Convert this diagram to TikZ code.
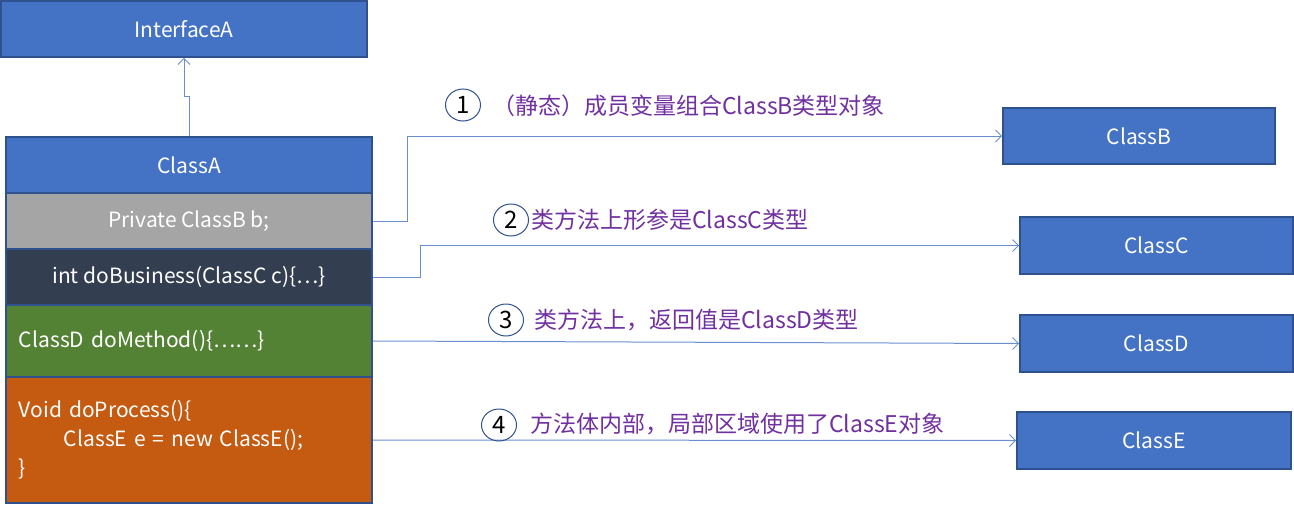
\documentclass[tikz,border=0pt]{standalone}
\usepackage{fontspec}
\setmainfont{Noto Sans CJK SC}
\usetikzlibrary{arrows.meta,shapes.geometric}
\definecolor{boxblue}{HTML}{4472C4}
\definecolor{boxedge}{HTML}{2F528F}
\definecolor{rowgray}{HTML}{A5A5A5}
\definecolor{rownavy}{HTML}{333F50}
\definecolor{rowgreen}{HTML}{548235}
\definecolor{roworange}{HTML}{C55A11}
\definecolor{labpurple}{HTML}{7030A0}
\definecolor{connblue}{HTML}{6A8FD0}
\tikzset{
  classbox/.style={draw=boxedge, line width=1.6pt, fill=boxblue, text=white,
    font=\fontsize{21}{24}\selectfont, inner sep=0pt},
  rowbox/.style={draw=boxedge, line width=1.6pt, text=white, minimum width=366pt,
    font=\fontsize{21}{29}\selectfont, inner sep=0pt},
  conn/.style={draw=connblue, line width=1pt, -{Straight Barb[length=6pt,width=12pt,line width=1pt]}},
  numcirc/.style={ellipse, draw=boxedge, line width=1pt, minimum width=35pt, minimum height=32pt,
    inner sep=0pt, font=\fontsize{24}{26}\selectfont},
  lab/.style={anchor=west, text=labpurple, font=\fontsize{23}{26}\selectfont, inner sep=0pt}
}
\begin{document}
\begin{tikzpicture}[x=1pt,y=-1pt]
\useasboundingbox (0,0) rectangle (1294,506);
\node[classbox, minimum width=366pt, minimum height=56pt] (ifa) at (184,29) {InterfaceA};
\node[classbox, minimum width=366pt, minimum height=56pt] (clsa) at (189,165) {ClassA};
\node[rowbox, fill=rowgray, minimum height=56pt] (priv) at (189,221) {Private ClassB b;};
\node[rowbox, fill=rownavy, minimum height=56pt] (biz) at (189,277) {int doBusiness(ClassC c)\{…\}};
\node[rowbox, fill=rowgreen, minimum height=72pt, text width=340pt, align=left] (meth) at (189,341) {ClassD doMethod()\{……\}};
\node[rowbox, fill=roworange, minimum height=126pt, text width=340pt, align=left] (proc) at (189,440)
  {Void doProcess()\{\\\hspace*{45pt}ClassE e = new ClassE();\\\}};

\node[classbox, minimum width=272pt, minimum height=56pt] (cb) at (1139,136) {ClassB};
\node[classbox, minimum width=273pt, minimum height=57pt] (cc) at (1156.5,245.5) {ClassC};
\node[classbox, minimum width=273pt, minimum height=57pt] (cd) at (1156.5,343.5) {ClassD};
\node[classbox, minimum width=274pt, minimum height=57pt] (ce) at (1154,440.5) {ClassE};

\draw[conn] (clsa.north) -- ++(0,-40) -| (ifa.south);
\draw[conn] (priv.east) -- ++(35,0) |- (cb.west);
\draw[conn] (biz.east) -- ++(48,0) |- (cc.west);
\draw[conn] (meth.east) -- (cd.west);
\draw[conn] (proc.east) -- (ce.west);

\node[numcirc] (n1) at (463,105) {1};
\node[lab] (t1) at (492,106) {（静态）成员变量组合ClassB类型对象};
\node[numcirc] (n2) at (511,220) {2};
\node[lab] (t2) at (531,220) {类方法上形参是ClassC类型};
\node[numcirc] (n3) at (506,320) {3};
\node[lab] (t3) at (534,320) {类方法上，返回值是ClassD类型};
\node[numcirc] (n4) at (499,425) {4};
\node[lab] (t4) at (530,424) {方法体内部，局部区域使用了ClassE对象};
\end{tikzpicture}
\end{document}
